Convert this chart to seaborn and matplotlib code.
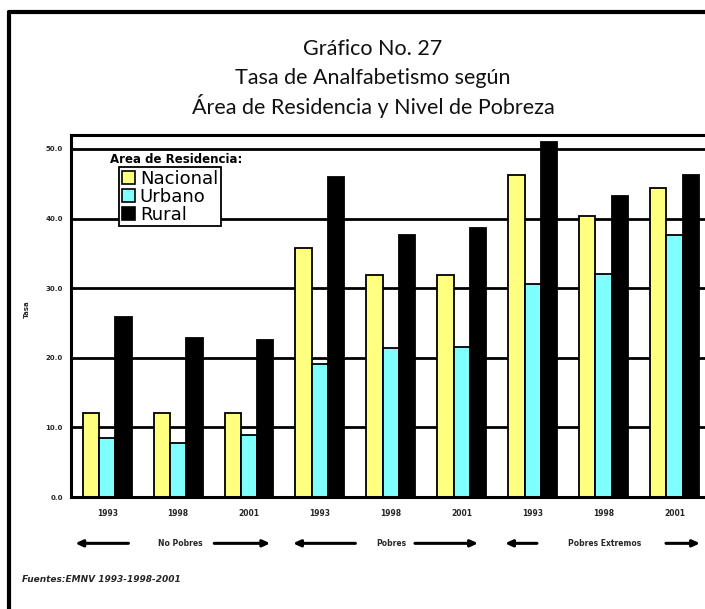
"""
Gráfico No. 27 - Tasa de analfabetismo según área de residencia y nivel de pobreza.
Saves out.png (705x609).
"""

import matplotlib.pyplot as plt
import pandas as pd
import seaborn as sns
from matplotlib.lines import Line2D

# data
niveles = ["No Pobres", "Pobres", "Pobres Extremos"]
years = ["1993", "1998", "2001"]
areas = ["Nacional", "Urbano", "Rural"]
nacional = [12.1, 12.0, 12.1, 35.8, 31.9, 31.9, 46.3, 40.3, 44.4]
urbano = [8.5, 7.8, 8.9, 19.1, 21.4, 21.6, 30.6, 32.1, 37.7]
rural = [25.9, 22.9, 22.5, 46.0, 37.6, 38.7, 51.0, 43.2, 46.2]
y_ticks = [0, 10, 20, 30, 40, 50]

COLORS = {"Nacional": "#ffff80", "Urbano": "#80ffff", "Rural": "#000000"}


def build_frame() -> pd.DataFrame:
    cats = [f"{n} {y}" for n in niveles for y in years]
    rows = []
    for area, vals in zip(areas, [nacional, urbano, rural]):
        for cat, v in zip(cats, vals):
            rows.append({"grupo": cat, "area": area, "tasa": v})
    return pd.DataFrame(rows), cats


def main() -> None:
    sns.set_theme(style="white")
    plt.rcParams["font.family"] = ["DejaVu Sans"]
    df, cats = build_frame()

    fig = plt.figure(figsize=(7.05, 6.09), dpi=100)
    ax = fig.add_axes([71 / 705, 1 - 497 / 609, 1 - 71 / 705, (497 - 135) / 609])

    sns.barplot(
        data=df,
        x="grupo",
        y="tasa",
        hue="area",
        order=cats,
        hue_order=areas,
        palette=COLORS,
        width=0.69,
        edgecolor="black",
        linewidth=1.3,
        saturation=1,
        legend=False,
        ax=ax,
    )

    ax.set_xlim(-0.51, 8.43)
    ax.set_ylim(0, 52)
    ax.set_yticks(y_ticks)
    ax.set_yticklabels([f"{v:.1f}" for v in y_ticks], fontsize=5, fontweight="bold")
    ax.set_xticks(range(len(cats)))
    ax.set_xticklabels(years * 3, fontsize=5.5, fontweight="bold")
    ax.tick_params(axis="x", length=0, pad=9)
    ax.tick_params(axis="y", length=4, width=2, color="black", direction="out", pad=2)
    ax.set_xlabel("")
    ax.set_ylabel("Tasa", fontsize=5, fontweight="bold", labelpad=20)
    ax.yaxis.set_label_coords(-0.065, 0.52)

    ax.set_axisbelow(True)
    ax.grid(axis="y", color="black", linewidth=2)
    ax.grid(axis="x", visible=False)
    for side in ["left", "top", "bottom"]:
        ax.spines[side].set_visible(True)
        ax.spines[side].set_color("black")
        ax.spines[side].set_linewidth(2.2)
    ax.spines["right"].set_visible(False)

    # legend: title sits above the box
    handles = [
        plt.Rectangle((0, 0), 1, 1, facecolor=COLORS[a], edgecolor="black", linewidth=1.2)
        for a in areas
    ]
    leg = ax.legend(
        handles,
        areas,
        loc="upper left",
        bbox_to_anchor=((119 - 71) / 634, (497 - 167) / 362),
        fontsize=13,
        frameon=True,
        fancybox=False,
        edgecolor="black",
        framealpha=1,
        borderpad=0.15,
        labelspacing=0.0,
        handlelength=0.75,
        handleheight=0.75,
        handletextpad=0.25,
        borderaxespad=0,
    )
    leg.get_frame().set_linewidth(1.3)
    for t in leg.get_texts():
        t.set_color("black")
    ax.text(
        (110 - 71) / 634,
        (497 - 160) / 362,
        "Area de Residencia:",
        transform=ax.transAxes,
        fontsize=8.5,
        fontweight="heavy",
        color="black",
        va="center",
        ha="left",
    )

    # arrows and poverty level labels below the years
    arrow_y = -0.128
    segments = [
        ("No Pobres", 1.03, (0.30, -0.45), (1.51, 2.30)),
        ("Pobres", 4.0, (3.50, 2.62), (4.34, 5.23)),
        ("Pobres Extremos", 7.01, (6.06, 5.61), (7.88, 8.36)),
    ]
    trans = ax.get_xaxis_transform()
    for label, cx, left, right in segments:
        ax.text(cx, arrow_y, label, transform=trans, ha="center", va="center",
                fontsize=5.5, fontweight="bold", clip_on=False)
        for start, end in [left, right]:
            ax.annotate(
                "",
                xy=(end, arrow_y),
                xytext=(start, arrow_y),
                xycoords=trans,
                textcoords=trans,
                arrowprops=dict(arrowstyle="-|>,head_length=0.35,head_width=0.16",
                                color="black", linewidth=2.2, shrinkA=0, shrinkB=0),
                annotation_clip=False,
            )

    # title
    title_lines = ["Gráfico No. 27", "Tasa de Analfabetismo según",
                   "Área de Residencia y Nivel de Pobreza"]
    for i, line in enumerate(title_lines):
        fig.text(373 / 705, 1 - (49 + 28.5 * i) / 609, line, ha="center", va="center",
                 fontsize=15.5, family=["Lato", "DejaVu Sans"], color="#111111")

    fig.text(22 / 705, 1 - 580 / 609, "Fuentes:EMNV 1993-1998-2001", fontsize=6.5,
             fontweight="bold", style="italic", ha="left", va="center")

    # outer frame (left and top edge of the original box)
    fig.add_artist(Line2D([9 / 705, 9 / 705], [0, 1 - 12 / 609], color="black",
                          linewidth=3, transform=fig.transFigure))
    fig.add_artist(Line2D([9 / 705, 1], [1 - 12 / 609, 1 - 12 / 609], color="black",
                          linewidth=3, transform=fig.transFigure))

    fig.savefig("out.png", dpi=100)
    plt.close(fig)


if __name__ == "__main__":
    main()
